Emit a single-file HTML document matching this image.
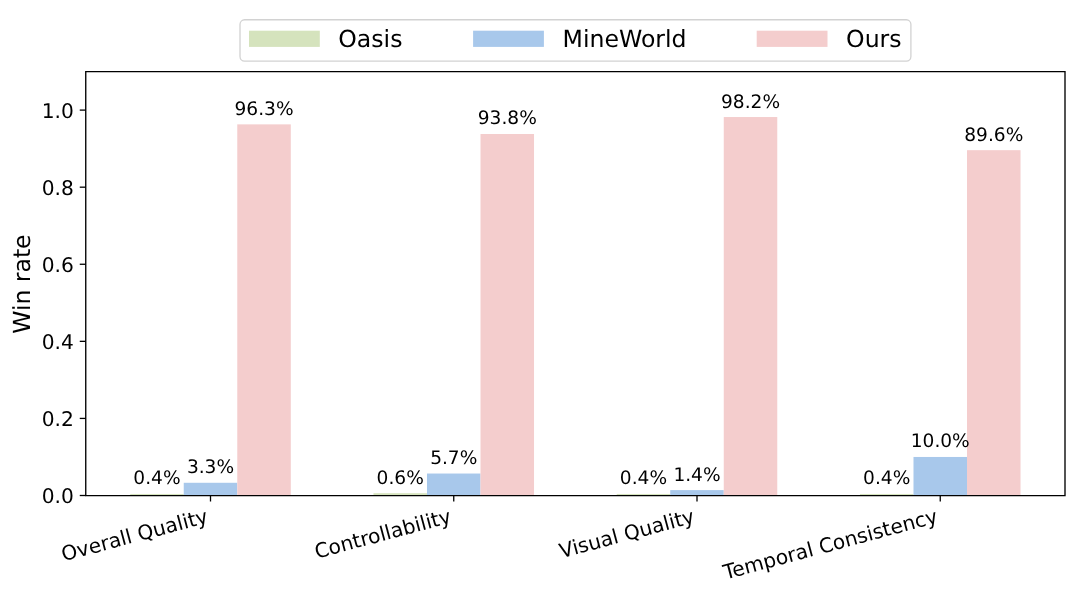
<!DOCTYPE html>
<html><head><meta charset="utf-8"><title>Win rate chart</title>
<style>
html,body{margin:0;padding:0;background:#fff;}
body{width:1080px;height:599px;overflow:hidden;}
svg{display:block;will-change:transform;text-rendering:geometricPrecision;font-family:"DejaVu Sans","Liberation Sans",sans-serif;fill:#000;}
svg text{fill:#000;}
</style></head><body>
<svg width="1080" height="599" viewBox="0 0 1080 599">
<rect width="1080" height="599" fill="#fff"/>
<rect x="130.23" y="493.96" width="53.52" height="1.54" fill="#d5e3bd"/>
<rect x="373.48" y="493.19" width="53.51" height="2.31" fill="#d5e3bd"/>
<rect x="616.73" y="493.96" width="53.52" height="1.54" fill="#d5e3bd"/>
<rect x="859.98" y="493.96" width="53.51" height="1.54" fill="#d5e3bd"/>
<rect x="183.74" y="482.78" width="53.51" height="12.72" fill="#a8c8eb"/>
<rect x="426.99" y="473.53" width="53.52" height="21.97" fill="#a8c8eb"/>
<rect x="670.24" y="490.10" width="53.51" height="5.40" fill="#a8c8eb"/>
<rect x="913.49" y="456.96" width="53.51" height="38.54" fill="#a8c8eb"/>
<rect x="237.26" y="124.36" width="53.52" height="371.14" fill="#f4cdcd"/>
<rect x="480.51" y="133.99" width="53.52" height="361.51" fill="#f4cdcd"/>
<rect x="723.76" y="117.04" width="53.51" height="378.46" fill="#f4cdcd"/>
<rect x="967.01" y="150.18" width="53.51" height="345.32" fill="#f4cdcd"/>
<text transform="translate(156.99,484.46) " font-size="18.6" text-anchor="middle">0.4%</text>
<text transform="translate(400.24,483.69) " font-size="18.6" text-anchor="middle">0.6%</text>
<text transform="translate(643.49,484.46) " font-size="18.6" text-anchor="middle">0.4%</text>
<text transform="translate(886.73,484.46) " font-size="18.6" text-anchor="middle">0.4%</text>
<text transform="translate(210.50,473.28) " font-size="18.6" text-anchor="middle">3.3%</text>
<text transform="translate(453.75,464.03) " font-size="18.6" text-anchor="middle">5.7%</text>
<text transform="translate(697.00,480.60) " font-size="18.6" text-anchor="middle">1.4%</text>
<text transform="translate(940.25,447.46) " font-size="18.6" text-anchor="middle">10.0%</text>
<text transform="translate(264.01,114.86) " font-size="18.6" text-anchor="middle">96.3%</text>
<text transform="translate(507.26,124.49) " font-size="18.6" text-anchor="middle">93.8%</text>
<text transform="translate(750.52,107.54) " font-size="18.6" text-anchor="middle">98.2%</text>
<text transform="translate(993.77,140.68) " font-size="18.6" text-anchor="middle">89.6%</text>
<path d="M85.75,495.65V71.55H1065.00V495.65Z" fill="none" stroke="#000" stroke-width="1.35" stroke-linejoin="miter" stroke-linecap="square"/>
<line x1="79.75" y1="495.50" x2="85.75" y2="495.50" stroke="#000" stroke-width="1.3"/>
<text transform="translate(73.8,503.00) " font-size="20.2" text-anchor="end">0.0</text>
<line x1="79.75" y1="418.42" x2="85.75" y2="418.42" stroke="#000" stroke-width="1.3"/>
<text transform="translate(73.8,425.92) " font-size="20.2" text-anchor="end">0.2</text>
<line x1="79.75" y1="341.34" x2="85.75" y2="341.34" stroke="#000" stroke-width="1.3"/>
<text transform="translate(73.8,348.84) " font-size="20.2" text-anchor="end">0.4</text>
<line x1="79.75" y1="264.26" x2="85.75" y2="264.26" stroke="#000" stroke-width="1.3"/>
<text transform="translate(73.8,271.76) " font-size="20.2" text-anchor="end">0.6</text>
<line x1="79.75" y1="187.18" x2="85.75" y2="187.18" stroke="#000" stroke-width="1.3"/>
<text transform="translate(73.8,194.68) " font-size="20.2" text-anchor="end">0.8</text>
<line x1="79.75" y1="110.10" x2="85.75" y2="110.10" stroke="#000" stroke-width="1.3"/>
<text transform="translate(73.8,117.60) " font-size="20.2" text-anchor="end">1.0</text>
<line x1="210.50" y1="495.50" x2="210.50" y2="501.50" stroke="#000" stroke-width="1.3"/>
<text transform="translate(209.07,522.33) rotate(-15)" font-size="20.2" text-anchor="end">Overall Quality</text>
<line x1="453.75" y1="495.50" x2="453.75" y2="501.50" stroke="#000" stroke-width="1.3"/>
<text transform="translate(452.32,522.33) rotate(-15)" font-size="20.2" text-anchor="end">Controllability</text>
<line x1="697.00" y1="495.50" x2="697.00" y2="501.50" stroke="#000" stroke-width="1.3"/>
<text transform="translate(695.57,522.33) rotate(-15)" font-size="20.2" text-anchor="end">Visual Quality</text>
<line x1="940.25" y1="495.50" x2="940.25" y2="501.50" stroke="#000" stroke-width="1.3"/>
<text transform="translate(938.82,522.33) rotate(-15)" font-size="20.2" text-anchor="end">Temporal Consistency</text>
<text transform="translate(30.3,284.10) rotate(-90)" font-size="23.5" text-anchor="middle">Win rate</text>
<rect x="240.0" y="19.75" width="670.9" height="41.35" rx="4.6" ry="4.6" fill="#fff" fill-opacity="0.8" stroke="#d2d2d2" stroke-width="1.3"/>
<rect x="249" y="30.7" width="70.8" height="16.2" fill="#d5e3bd"/>
<text x="338.30" y="47.2" font-size="23.6">Oasis</text>
<rect x="473.1" y="30.7" width="70.8" height="16.2" fill="#a8c8eb"/>
<text x="562.60" y="47.2" font-size="23.6">MineWorld</text>
<rect x="756.7" y="30.7" width="70.8" height="16.2" fill="#f4cdcd"/>
<text x="846.10" y="47.2" font-size="23.6">Ours</text>
</svg>
</body></html>
